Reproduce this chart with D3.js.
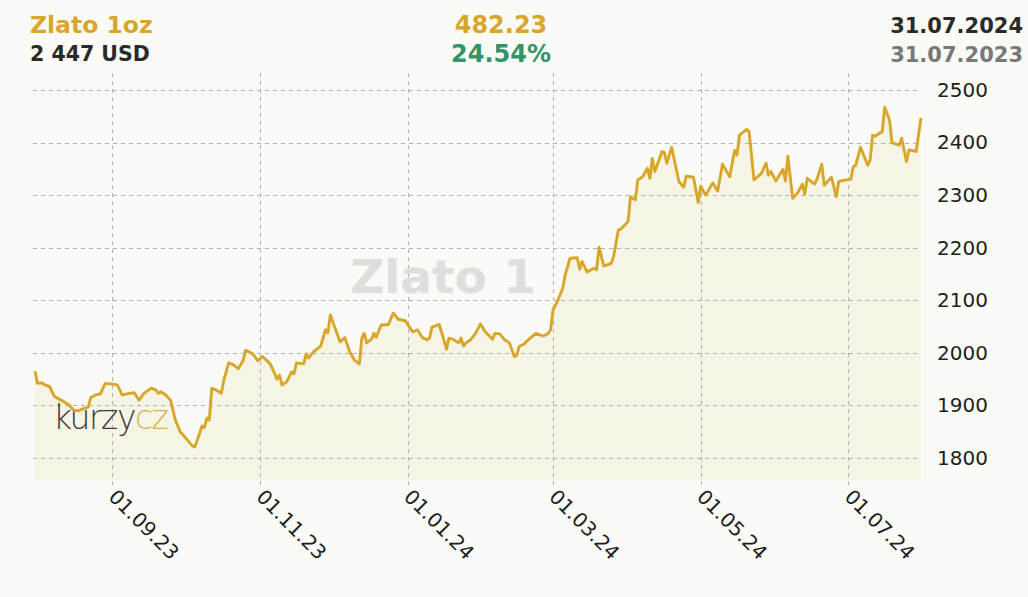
<!DOCTYPE html>
<html>
<head>
<meta charset="utf-8">
<script src="https://cdn.jsdelivr.net/npm/d3@7"></script>
<style>
  html, body { margin: 0; padding: 0; background: #fafaf6; }
  svg { display: block; }
  text { font-family: "DejaVu Sans", Verdana, sans-serif; }
</style>
</head>
<body>
<svg id="chart" width="1028" height="597"></svg>
<script>
// ---- data ----
const title = "Zlato 1oz";
const lastPriceLabel = "2 447 USD";
const changeAbs = "482.23";
const changePct = "24.54%";
const dateTo = "31.07.2024";
const dateFrom = "31.07.2023";
const watermark = "Zlato 1";

const dates = [
  "2023-07-31","2023-08-01","2023-08-03","2023-08-04","2023-08-06","2023-08-08","2023-08-10","2023-08-12",
  "2023-08-14","2023-08-16","2023-08-18","2023-08-20","2023-08-22","2023-08-23","2023-08-25","2023-08-27",
  "2023-08-29","2023-08-31","2023-09-03","2023-09-05","2023-09-08","2023-09-10","2023-09-12","2023-09-14",
  "2023-09-17","2023-09-19","2023-09-20","2023-09-21","2023-09-23","2023-09-25","2023-09-26","2023-09-27",
  "2023-09-29","2023-10-02","2023-10-04","2023-10-05","2023-10-06","2023-10-07","2023-10-08","2023-10-09",
  "2023-10-10","2023-10-11","2023-10-12","2023-10-14","2023-10-16","2023-10-17","2023-10-19","2023-10-21",
  "2023-10-23","2023-10-25","2023-10-26","2023-10-29","2023-10-31","2023-11-02","2023-11-05","2023-11-06",
  "2023-11-08","2023-11-09","2023-11-10","2023-11-12","2023-11-14","2023-11-15","2023-11-16","2023-11-19",
  "2023-11-20","2023-11-21","2023-11-23","2023-11-26","2023-11-28","2023-11-29","2023-11-30","2023-12-02",
  "2023-12-04","2023-12-06","2023-12-08","2023-12-10","2023-12-12","2023-12-13","2023-12-14","2023-12-15",
  "2023-12-17","2023-12-18","2023-12-19","2023-12-21","2023-12-24","2023-12-26","2023-12-28","2023-12-31",
  "2024-01-03","2024-01-05","2024-01-07","2024-01-09","2024-01-10","2024-01-11","2024-01-14","2024-01-17",
  "2024-01-18","2024-01-20","2024-01-22","2024-01-23","2024-01-24","2024-01-25","2024-01-27","2024-01-29",
  "2024-01-31","2024-02-02","2024-02-05","2024-02-06","2024-02-08","2024-02-10","2024-02-12","2024-02-14",
  "2024-02-15","2024-02-16","2024-02-18","2024-02-20","2024-02-23","2024-02-26","2024-02-28","2024-02-29",
  "2024-03-01","2024-03-03","2024-03-05","2024-03-06","2024-03-08","2024-03-11","2024-03-12","2024-03-13",
  "2024-03-15","2024-03-18","2024-03-19","2024-03-20","2024-03-22","2024-03-25","2024-03-26","2024-03-28",
  "2024-03-29","2024-04-01","2024-04-02","2024-04-04","2024-04-05","2024-04-07","2024-04-09","2024-04-10",
  "2024-04-11","2024-04-12","2024-04-13","2024-04-15","2024-04-16","2024-04-17","2024-04-19","2024-04-22",
  "2024-04-24","2024-04-25","2024-04-28","2024-04-30","2024-05-01","2024-05-03","2024-05-06","2024-05-08",
  "2024-05-10","2024-05-13","2024-05-15","2024-05-16","2024-05-17","2024-05-20","2024-05-21","2024-05-23",
  "2024-05-26","2024-05-28","2024-05-29","2024-05-30","2024-06-01","2024-06-04","2024-06-05","2024-06-06",
  "2024-06-08","2024-06-10","2024-06-12","2024-06-13","2024-06-14","2024-06-17","2024-06-18","2024-06-20",
  "2024-06-21","2024-06-24","2024-06-26","2024-06-27","2024-06-29","2024-07-02","2024-07-03","2024-07-04",
  "2024-07-06","2024-07-09","2024-07-10","2024-07-11","2024-07-12","2024-07-15","2024-07-16","2024-07-18",
  "2024-07-19","2024-07-22","2024-07-23","2024-07-25","2024-07-26","2024-07-29","2024-07-31"
];
const prices = [
  1965,1942,1943,1939,1936,1917,1912,1907,
  1901,1891,1890,1894,1897,1915,1920,1922,
  1942,1941,1939,1920,1923,1924,1910,1923,
  1933,1929,1923,1926,1920,1910,1891,1872,
  1850,1834,1823,1821,1834,1847,1861,1858,
  1876,1872,1933,1929,1923,1948,1981,1977,
  1970,1986,2005,1998,1985,1993,1980,1971,
  1950,1958,1939,1945,1964,1960,1981,1979,
  1998,1990,2002,2013,2044,2038,2072,2047,
  2021,2029,2002,1986,1979,2028,2037,2019,
  2026,2037,2030,2053,2054,2076,2064,2061,
  2040,2044,2029,2025,2028,2049,2054,2007,
  2028,2025,2019,2028,2013,2019,2025,2037,
  2055,2040,2026,2037,2036,2025,2019,1993,
  1995,2012,2017,2026,2037,2032,2037,2044,
  2082,2100,2123,2148,2180,2181,2159,2174,
  2154,2161,2158,2201,2165,2170,2183,2234,
  2235,2250,2297,2291,2329,2335,2351,2332,
  2370,2345,2357,2383,2381,2361,2391,2326,
  2315,2336,2334,2286,2317,2300,2323,2308,
  2359,2335,2385,2376,2414,2425,2421,2329,
  2341,2361,2338,2345,2327,2349,2327,2374,
  2294,2304,2321,2302,2332,2321,2330,2359,
  2319,2334,2297,2326,2328,2330,2354,2356,
  2391,2357,2367,2414,2412,2421,2467,2443,
  2400,2395,2408,2364,2386,2383,2447
];
const yTicks = [1800, 1900, 2000, 2100, 2200, 2300, 2400, 2500];
const xTickDates = ["2023-09-01","2023-11-01","2024-01-01","2024-03-01","2024-05-01","2024-07-01"];
const xTickLabels = ["01.09.23","01.11.23","01.01.24","01.03.24","01.05.24","01.07.24"];

// ---- layout ----
const parse = d3.timeParse("%Y-%m-%d");
const data = dates.map((d, i) => ({ date: parse(d), value: prices[i] }));

const plot = { left: 34, right: 921, top: 73, bottom: 480 };
const x = d3.scaleTime()
  .domain([parse("2023-07-31"), parse("2024-07-31")])
  .range([35, 921]);
const y = d3.scaleLinear().domain([1800, 2500]).range([458, 90]);

const svg = d3.select("#chart");
svg.append("rect").attr("width", 1028).attr("height", 597).attr("fill", "#fafaf6");

// area fill
svg.append("path")
  .datum(data)
  .attr("fill", "#f6f4e5")
  .attr("d", d3.area().x(d => x(d.date)).y0(plot.bottom).y1(d => y(d.value)));

// grid
const grid = svg.append("g");
grid.selectAll("line.h").data(yTicks).join("line")
  .attr("x1", plot.left - 1).attr("x2", plot.right - 1)
  .attr("y1", d => Math.round(y(d)) + 0.5).attr("y2", d => Math.round(y(d)) + 0.5)
  .attr("stroke", "#b0b0b0").attr("stroke-width", 1).attr("stroke-dasharray", "4,4");
grid.selectAll("line.v").data(xTickDates).join("line")
  .attr("x1", d => Math.round(x(parse(d))) + 0.5).attr("x2", d => Math.round(x(parse(d))) + 0.5)
  .attr("y1", plot.top).attr("y2", plot.bottom + 8)
  .attr("stroke", "#b0b0b0").attr("stroke-width", 1).attr("stroke-dasharray", "4,4");

// watermark
svg.append("text")
  .attr("x", 443).attr("y", 293)
  .attr("text-anchor", "middle")
  .attr("font-size", 47).attr("font-weight", "bold")
  .attr("fill", "#dedede")
  .text(watermark);

// logo
const logo = svg.append("text")
  .attr("x", 53).attr("y", 429)
  .attr("font-family", "Lato, 'Open Sans', sans-serif")
  .attr("font-size", 33).attr("font-weight", 100)
  .attr("letter-spacing", "-1.5");
logo.append("tspan").attr("fill", "#3a3a3a").text("kurzy");
logo.append("tspan").attr("fill", "#d6b25a").text("cz");

// line
svg.append("path")
  .datum(data)
  .attr("fill", "none")
  .attr("stroke", "#d9a62c")
  .attr("stroke-width", 2.9)
  .attr("stroke-linejoin", "round")
  .attr("d", d3.line().x(d => x(d.date)).y(d => y(d.value)));

// y axis labels
const yAxis = d3.axisRight(y).tickValues(yTicks).tickSize(0).tickPadding(0).tickFormat(d3.format("d"));
svg.append("g")
  .attr("transform", "translate(937,0)")
  .call(yAxis)
  .call(g => g.select(".domain").remove())
  .call(g => g.selectAll("text")
    .attr("font-family", "DejaVu Sans, Verdana, sans-serif")
    .attr("font-size", 20).attr("fill", "#1e1e1e"));

// x axis labels (rotated)
const xl = svg.append("g");
xTickDates.forEach((d, i) => {
  xl.append("text")
    .attr("transform", `translate(${x(parse(d)) - 5},${498}) rotate(45)`)
    .attr("font-size", 20).attr("fill", "#1e1e1e")
    .text(xTickLabels[i]);
});

// header
svg.append("text").attr("x", 30).attr("y", 33)
  .attr("font-size", 23.5).attr("font-weight", "bold").attr("fill", "#d9a62c").text(title);
svg.append("text").attr("x", 30).attr("y", 61)
  .attr("font-size", 20.5).attr("font-weight", "bold").attr("fill", "#2a2a2a").text(lastPriceLabel);
svg.append("text").attr("x", 501).attr("y", 33).attr("text-anchor", "middle")
  .attr("font-size", 24).attr("font-weight", "bold").attr("fill", "#d9a62c").text(changeAbs);
svg.append("text").attr("x", 501).attr("y", 62).attr("text-anchor", "middle")
  .attr("font-size", 24).attr("font-weight", "bold").attr("fill", "#359467").text(changePct);
svg.append("text").attr("x", 1023).attr("y", 33).attr("text-anchor", "end")
  .attr("font-size", 21).attr("font-weight", "bold").attr("fill", "#2a2a2a").text(dateTo);
svg.append("text").attr("x", 1023).attr("y", 62).attr("text-anchor", "end")
  .attr("font-size", 21).attr("font-weight", "bold").attr("fill", "#787878").text(dateFrom);
</script>
</body>
</html>
